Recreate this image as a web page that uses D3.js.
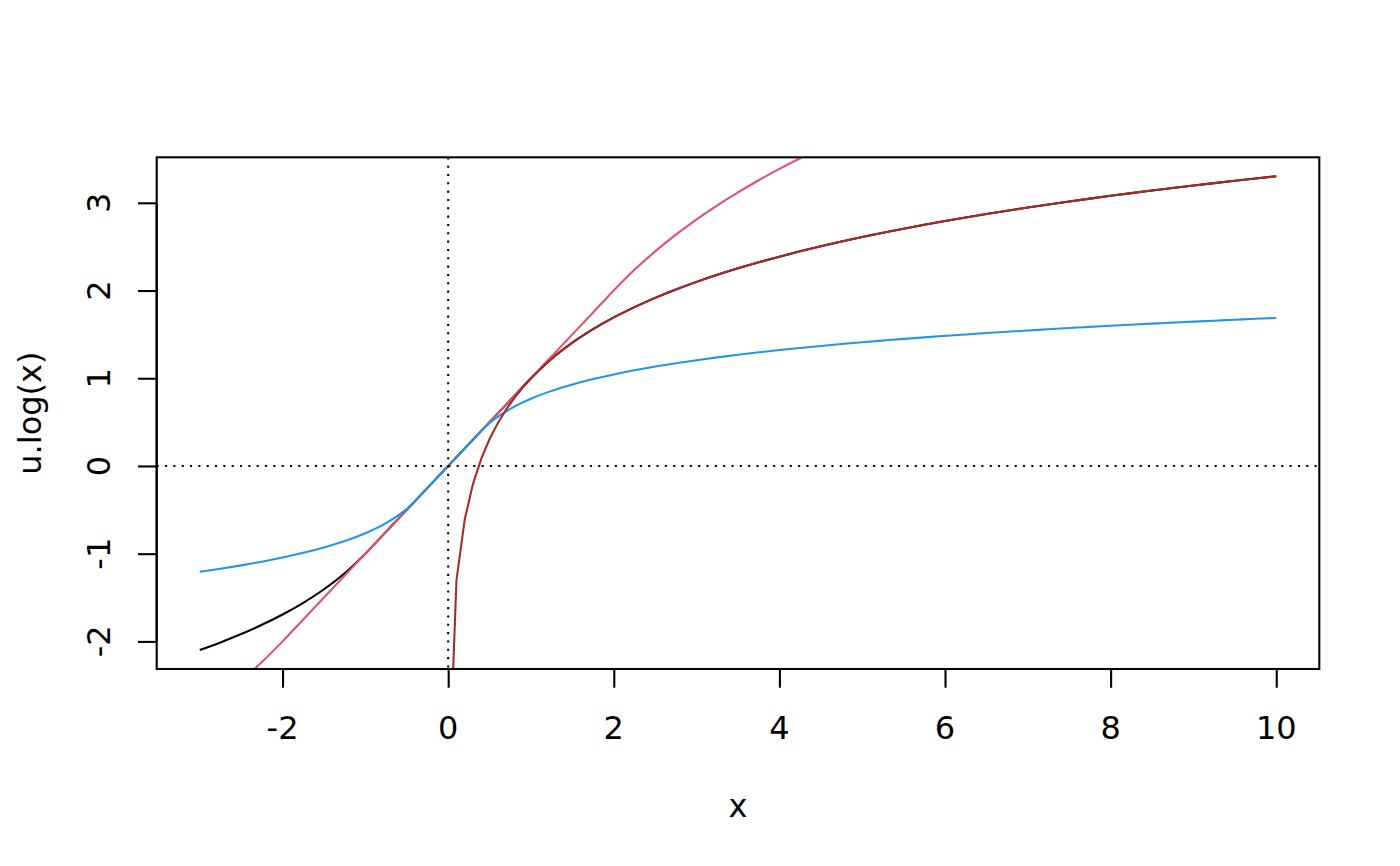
<!DOCTYPE html>
<html>
<head>
<meta charset="utf-8">
<script src="https://cdn.jsdelivr.net/npm/d3@7"></script>
<style>
  body { margin: 0; background: #fff; }
  text { font-family: "DejaVu Sans", sans-serif; font-size: 32px; fill: #000; }
</style>
</head>
<body>
<div id="chart"></div>
<script>
// x grid used by the three u.log curves
var xGrid = [-3, -2.75, -2.5, -2.25, -2, -1.75, -1.5, -1.25, -1, -0.75, -0.5, -0.25, 0,
  0.25, 0.5, 0.75, 1, 1.25, 1.5, 1.75, 2, 2.25, 2.5, 2.75, 3, 3.25, 3.5, 3.75, 4,
  4.25, 4.5, 4.75, 5, 5.25, 5.5, 5.75, 6, 6.25, 6.5, 6.75, 7, 7.25, 7.5, 7.75, 8,
  8.25, 8.5, 8.75, 9, 9.25, 9.5, 9.75, 10];

// u.log(x)  (black)
var uLog = [-2.0986, -2.0116, -1.9163, -1.8109, -1.6931, -1.5596, -1.4055, -1.2231, -1,
  -0.75, -0.5, -0.25, 0, 0.25, 0.5, 0.75, 1, 1.2231, 1.4055, 1.5596, 1.6931, 1.8109,
  1.9163, 2.0116, 2.0986, 2.1787, 2.2528, 2.3218, 2.3863, 2.4469, 2.5041, 2.5581,
  2.6094, 2.6582, 2.7047, 2.7492, 2.7918, 2.8326, 2.8718, 2.9095, 2.9459, 2.9810,
  3.0149, 3.0477, 3.0794, 3.1102, 3.1401, 3.1691, 3.1972, 3.2246, 3.2513, 3.2773, 3.3026];

// u.log(x, c = 2)  (red)
var uLogC2 = [-2.8109, -2.6369, -2.4463, -2.2355, -2, -1.75, -1.5, -1.25, -1, -0.75, -0.5,
  -0.25, 0, 0.25, 0.5, 0.75, 1, 1.25, 1.5, 1.75, 2, 2.2355, 2.4463, 2.6369, 2.8109,
  2.9711, 3.1193, 3.2573, 3.3863, 3.5075, 3.6219, 3.7299, 3.8325, 3.9301, 4.0231,
  4.1121, 4.1973, 4.2789, 4.3573, 4.4327, 4.5055, 4.5757, 4.6435, 4.7091, 4.7725,
  4.8341, 4.8939, 4.9519, 5.0081, 5.0629, 5.1163, 5.1683, 5.2189];

// u.log(x, c = 0.4)  (blue)
var uLogC04 = [-1.2060, -1.1712, -1.1331, -1.0909, -1.0438, -0.9904, -0.9287, -0.8558,
  -0.7665, -0.6515, -0.4893, -0.25, 0, 0.25, 0.4893, 0.6515, 0.7665, 0.8558, 0.9287,
  0.9904, 1.0438, 1.0909, 1.1331, 1.1712, 1.2060, 1.2380, 1.2676, 1.2952, 1.3210,
  1.3453, 1.3681, 1.3897, 1.4103, 1.4298, 1.4484, 1.4662, 1.4832, 1.4995, 1.5152,
  1.5303, 1.5449, 1.5589, 1.5725, 1.5856, 1.5983, 1.6106, 1.6225, 1.6341, 1.6454,
  1.6563, 1.6670, 1.6774, 1.6875];

// 1 + log(x)  (brown)
var logX = [0.01, 0.1, 0.2, 0.3, 0.4, 0.5, 0.6, 0.7, 0.8, 0.9, 1, 1.1, 1.2, 1.3, 1.4,
  1.5, 1.6, 1.7, 1.8, 1.9, 2, 2.25, 2.5, 2.75, 3, 3.25, 3.5, 3.75, 4, 4.25, 4.5, 4.75,
  5, 5.25, 5.5, 5.75, 6, 6.25, 6.5, 6.75, 7, 7.25, 7.5, 7.75, 8, 8.25, 8.5, 8.75, 9,
  9.25, 9.5, 9.75, 10];
var logPlus1 = [-3.6052, -1.3026, -0.6094, -0.2040, 0.0837, 0.3069, 0.4892, 0.6433,
  0.7769, 0.8946, 1, 1.0953, 1.1823, 1.2624, 1.3365, 1.4055, 1.4700, 1.5306, 1.5878,
  1.6419, 1.6931, 1.8109, 1.9163, 2.0116, 2.0986, 2.1787, 2.2528, 2.3218, 2.3863,
  2.4469, 2.5041, 2.5581, 2.6094, 2.6582, 2.7047, 2.7492, 2.7918, 2.8326, 2.8718,
  2.9095, 2.9459, 2.9810, 3.0149, 3.0477, 3.0794, 3.1102, 3.1401, 3.1691, 3.1972,
  3.2246, 3.2513, 3.2773, 3.3026];

var xTicks = [-2, 0, 2, 4, 6, 8, 10];
var yTicks = [-2, -1, 0, 1, 2, 3];

var width = 1400, height = 866;
var margin = {top: 157.3, right: 80.7, bottom: 197, left: 156.7};
var lwd = 2.08;

// R style limits: data range plus 4% each side
function padded(ext) {
  var p = (ext[1] - ext[0]) * 0.04;
  return [ext[0] - p, ext[1] + p];
}

var x = d3.scaleLinear()
    .domain(padded(d3.extent(xGrid)))
    .range([margin.left, width - margin.right]);
var y = d3.scaleLinear()
    .domain(padded(d3.extent(uLog)))
    .range([height - margin.bottom, margin.top]);

var svg = d3.select("#chart")
    .append("svg")
    .attr("width", width)
    .attr("height", height);

svg.append("clipPath")
    .attr("id", "plotArea")
  .append("rect")
    .attr("x", margin.left)
    .attr("y", margin.top)
    .attr("width", width - margin.left - margin.right)
    .attr("height", height - margin.top - margin.bottom);

var plot = svg.append("g").attr("clip-path", "url(#plotArea)");

var smooth = d3.line()
    .x(function(d) { return x(d[0]); })
    .y(function(d) { return y(d[1]); })
    .curve(d3.curveMonotoneX);
var straight = d3.line()
    .x(function(d) { return x(d[0]); })
    .y(function(d) { return y(d[1]); });

var series = [
  {vals: uLog, xs: xGrid, col: "#000000", gen: smooth},
  {vals: uLogC2, xs: xGrid, col: "#DF536B", gen: smooth},
  {vals: uLogC04, xs: xGrid, col: "#2297E6", gen: smooth},
  {vals: logPlus1, xs: logX, col: "#A52A2A", gen: straight}
];

series.forEach(function(s) {
  plot.append("path")
      .datum(d3.zip(s.xs, s.vals))
      .attr("d", s.gen)
      .attr("fill", "none")
      .attr("stroke", s.col)
      .attr("stroke-width", lwd);
});

// abline(h = 0, v = 0, lty = 3)
plot.append("line")
    .attr("x1", margin.left).attr("x2", width - margin.right)
    .attr("y1", y(0)).attr("y2", y(0));
plot.append("line")
    .attr("x1", x(0)).attr("x2", x(0))
    .attr("y1", margin.top).attr("y2", height - margin.bottom);
plot.selectAll("line")
    .attr("stroke", "#000")
    .attr("stroke-width", lwd)
    .attr("stroke-dasharray", "2.08,6.25");

// box
svg.append("rect")
    .attr("x", margin.left)
    .attr("y", margin.top)
    .attr("width", width - margin.left - margin.right)
    .attr("height", height - margin.top - margin.bottom)
    .attr("fill", "none")
    .attr("stroke", "#000")
    .attr("stroke-width", lwd);

// x axis
var xAxis = svg.append("g")
    .attr("transform", "translate(0," + (height - margin.bottom) + ")")
    .call(d3.axisBottom(x).tickValues(xTicks).tickSize(18.7).tickSizeOuter(0).tickFormat(""));
xAxis.select(".domain").remove();
xAxis.selectAll("line").attr("stroke-width", lwd);
xAxis.append("line")
    .attr("x1", x(xTicks[0])).attr("x2", x(xTicks[xTicks.length - 1]))
    .attr("stroke", "#000").attr("stroke-width", lwd);

svg.append("g").selectAll("text")
    .data(xTicks)
    .enter()
    .append("text")
    .attr("x", function(d) { return x(d); })
    .attr("y", height - margin.bottom + 70)
    .attr("text-anchor", "middle")
    .text(function(d) { return d; });

// y axis
var yAxis = svg.append("g")
    .attr("transform", "translate(" + margin.left + ",0)")
    .call(d3.axisLeft(y).tickValues(yTicks).tickSize(18.7).tickSizeOuter(0).tickFormat(""));
yAxis.select(".domain").remove();
yAxis.selectAll("line").attr("stroke-width", lwd);
yAxis.append("line")
    .attr("y1", y(yTicks[0])).attr("y2", y(yTicks[yTicks.length - 1]))
    .attr("stroke", "#000").attr("stroke-width", lwd);

svg.append("g").selectAll("text")
    .data(yTicks)
    .enter()
    .append("text")
    .attr("transform", function(d) {
      return "translate(" + (margin.left - 46.7) + "," + y(d) + ") rotate(-90)";
    })
    .attr("text-anchor", "middle")
    .text(function(d) { return d; });

// axis titles
svg.append("text")
    .attr("x", (margin.left + width - margin.right) / 2)
    .attr("y", 816.7)
    .attr("text-anchor", "middle")
    .text("x");

svg.append("text")
    .attr("transform", "translate(40.8," + (margin.top + height - margin.bottom) / 2 + ") rotate(-90)")
    .attr("text-anchor", "middle")
    .text("u.log(x)");
</script>
</body>
</html>
